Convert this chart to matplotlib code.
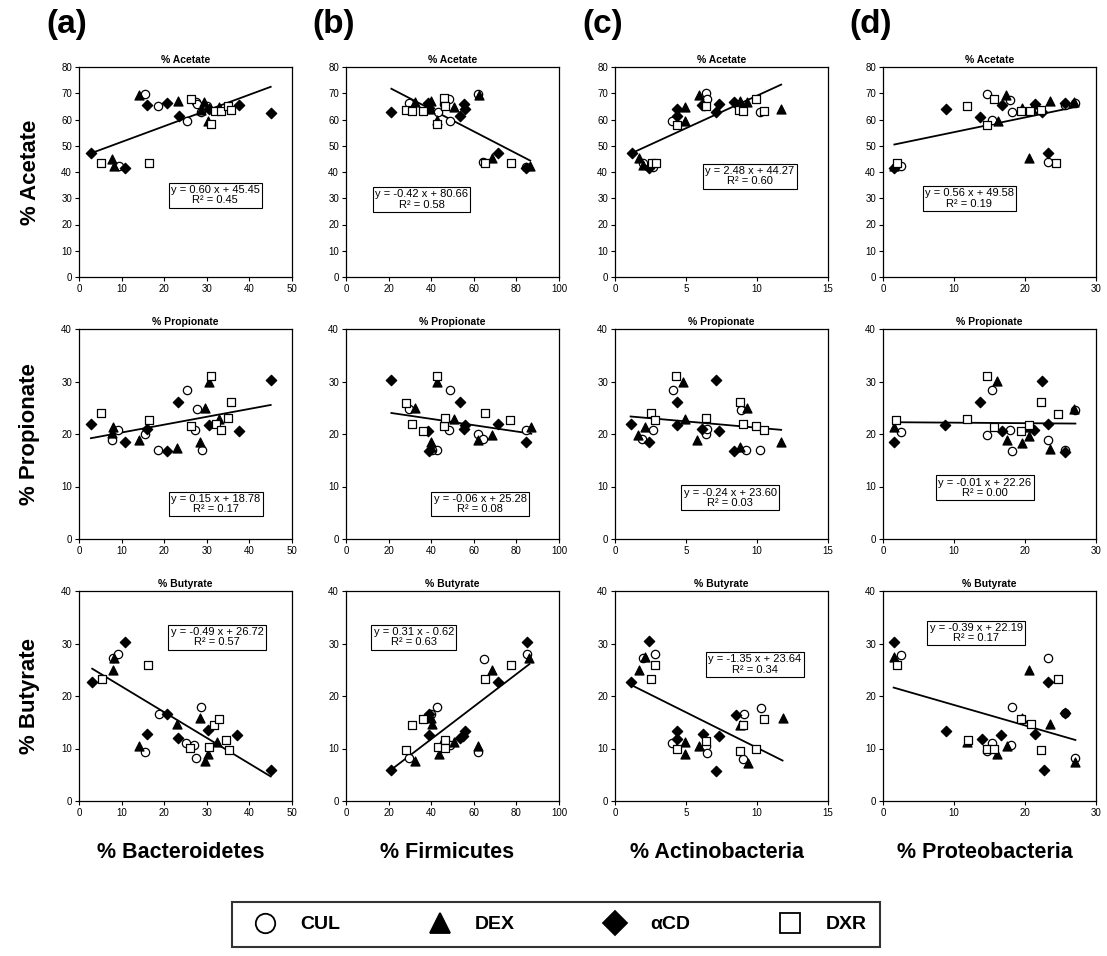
import matplotlib
matplotlib.use("Agg")
import matplotlib.pyplot as plt
from matplotlib.lines import Line2D

plt.rcParams['font.family'] = ['Liberation Sans', 'DejaVu Sans']

groups = ["CUL", "DEX", "αCD", "DXR"]
phyla = ["% Bacteroidetes", "% Firmicutes", "% Actinobacteria", "% Proteobacteria"]
acids = ["% Acetate", "% Propionate", "% Butyrate"]
panel_tags = ["(a)", "(b)", "(c)", "(d)"]

# x ranges / ticks per column
x_max = [50, 100, 15, 30]
x_step = [10, 20, 5, 10]
y_max = [80, 40, 40]

# ---- acetate row ----
a_ace = {
    "CUL": ([15.6, 18.5, 9.3, 25.4, 27.4, 28.7, 30.0, 27.8], [69.8, 65.3, 42.3, 59.3, 66.6, 62.8, 65.0, 66.0]),
    "DEX": ([14.1, 7.7, 8.1, 23.2, 29.4, 28.6, 30.3, 32.9], [69.4, 44.9, 42.3, 67.2, 66.6, 63.6, 59.6, 64.7]),
    "αCD": ([2.8, 10.9, 16.0, 20.7, 23.5, 30.6, 37.6, 45.0], [47.2, 41.5, 65.7, 66.2, 61.2, 63.9, 65.7, 62.5]),
    "DXR": ([5.1, 16.4, 26.2, 30.9, 31.9, 33.3, 34.9, 35.7], [43.6, 43.6, 67.9, 58.3, 63.1, 63.1, 65.2, 63.6]),
}
b_ace = {
    "CUL": ([29.4, 43.1, 48.3, 48.9, 61.8, 64.5, 84.4, 46.0], [66.2, 63.0, 67.9, 59.3, 69.8, 44.0, 42.0, 66.0]),
    "DEX": ([32.2, 40.0, 42.7, 50.9, 62.3, 68.5, 86.5, 39.3], [66.6, 67.2, 59.8, 64.9, 69.5, 45.3, 42.3, 64.0]),
    "αCD": ([21.3, 38.5, 53.3, 55.6, 56.1, 71.2, 84.4, 39.0], [62.8, 66.2, 61.2, 65.9, 64.0, 47.2, 41.5, 64.4]),
    "DXR": ([28.0, 31.2, 36.1, 42.7, 45.8, 46.4, 65.4, 77.4], [63.6, 63.4, 63.4, 58.3, 68.1, 65.3, 43.6, 43.6]),
}
c_ace = {
    "CUL": ([4.0, 6.4, 6.5, 2.0, 2.7, 10.2, 8.9, 6.3], [59.6, 70.0, 67.9, 43.6, 42.0, 62.8, 63.6, 65.0]),
    "DEX": ([1.7, 2.0, 4.9, 4.9, 5.9, 8.8, 9.3, 11.7], [45.3, 42.7, 64.9, 59.6, 69.4, 67.2, 66.6, 64.0]),
    "αCD": ([1.2, 2.4, 4.4, 4.4, 6.1, 7.1, 7.3, 8.4], [47.2, 41.7, 64.0, 61.5, 65.7, 62.8, 65.9, 66.6]),
    "DXR": ([2.6, 2.9, 4.4, 6.4, 8.7, 9.0, 9.9, 10.5], [43.6, 43.6, 58.0, 65.3, 63.6, 63.4, 68.0, 63.4]),
}
d_ace = {
    "CUL": ([14.7, 17.9, 18.1, 15.3, 2.6, 23.2, 27.1, 25.6], [69.8, 67.5, 62.8, 59.8, 42.3, 44.0, 66.2, 65.7]),
    "DEX": ([17.3, 23.5, 16.2, 20.6, 1.6, 26.9, 19.6, 21.0], [69.5, 67.2, 59.6, 45.3, 42.3, 66.6, 64.4, 64.0]),
    "αCD": ([8.9, 13.7, 16.7, 21.4, 22.4, 23.2, 25.6, 1.6], [64.0, 61.1, 65.7, 65.9, 62.8, 47.2, 66.2, 41.7]),
    "DXR": ([2.0, 11.8, 15.6, 14.7, 19.4, 20.7, 22.3, 24.4], [43.6, 65.3, 67.9, 58.0, 63.4, 63.4, 63.6, 43.6]),
}

# ---- propionate row ----
a_pro = {
    "CUL": ([7.7, 9.1, 15.6, 18.5, 25.3, 27.8, 27.2, 28.8], [18.9, 20.7, 20.0, 17.0, 28.4, 24.7, 20.7, 16.9]),
    "DEX": ([8.0, 7.7, 14.2, 23.1, 28.4, 29.5, 30.5, 32.9], [21.4, 20.1, 18.9, 17.4, 18.5, 24.9, 30.0, 22.8]),
    "αCD": ([2.8, 10.9, 16.0, 20.7, 23.2, 30.6, 37.6, 45.0], [22.0, 18.5, 20.9, 16.8, 26.1, 21.7, 20.6, 30.2]),
    "DXR": ([5.1, 16.4, 26.2, 30.9, 32.1, 33.3, 34.9, 35.7], [24.0, 22.6, 21.5, 31.1, 22.0, 20.7, 23.0, 26.1]),
}
b_pro = {
    "CUL": ([29.4, 48.6, 48.3, 42.7, 61.8, 64.5, 84.7, 40.5], [24.7, 28.4, 20.7, 16.9, 20.0, 19.1, 20.7, 17.0]),
    "DEX": ([32.2, 42.7, 40.0, 40.0, 50.9, 61.8, 68.5, 87.0], [24.9, 30.0, 18.5, 17.5, 22.8, 18.9, 19.8, 21.4]),
    "αCD": ([21.3, 38.5, 38.9, 53.3, 56.1, 55.6, 71.2, 84.4], [30.2, 20.6, 16.8, 26.1, 21.7, 20.9, 22.0, 18.5]),
    "DXR": ([28.0, 30.8, 36.1, 42.7, 45.8, 46.4, 65.1, 77.1], [26.0, 22.0, 20.6, 31.1, 21.5, 23.0, 24.0, 22.6]),
}
c_pro = {
    "CUL": ([1.9, 2.7, 4.1, 6.4, 6.5, 8.9, 9.2, 10.2], [19.1, 20.7, 28.4, 20.0, 20.9, 24.6, 17.0, 16.9]),
    "DEX": ([1.6, 2.1, 4.8, 4.9, 5.8, 8.8, 9.3, 11.7], [19.8, 21.4, 30.0, 22.8, 18.9, 17.5, 24.9, 18.5]),
    "αCD": ([1.1, 2.4, 4.4, 4.4, 6.1, 7.1, 7.3, 8.4], [22.0, 18.5, 26.1, 21.7, 20.9, 30.2, 20.6, 16.8]),
    "DXR": ([2.5, 2.8, 4.3, 6.4, 8.8, 9.0, 9.9, 10.5], [24.0, 22.6, 31.1, 23.0, 26.1, 22.0, 21.5, 20.7]),
}
d_pro = {
    "CUL": ([2.5, 14.7, 15.3, 17.9, 18.1, 23.2, 25.7, 27.1], [20.4, 19.9, 28.4, 20.8, 16.8, 18.9, 16.9, 24.6]),
    "DEX": ([1.5, 16.0, 17.4, 19.6, 20.6, 23.5, 26.9, 20.5], [21.4, 30.1, 18.9, 18.3, 19.7, 17.2, 24.8, 21.4]),
    "αCD": ([1.5, 8.8, 13.7, 16.7, 21.3, 22.4, 23.2, 25.7], [18.5, 21.7, 26.1, 20.6, 20.7, 30.1, 22.0, 16.6]),
    "DXR": ([1.9, 11.8, 14.7, 15.6, 19.4, 20.6, 22.3, 24.6], [22.6, 22.9, 31.1, 21.3, 20.6, 21.8, 26.1, 23.9]),
}

# ---- butyrate row ----
a_but = {
    "CUL": ([7.9, 9.2, 15.6, 18.7, 25.2, 27.1, 27.5, 28.7], [27.2, 28.0, 9.4, 16.6, 11.1, 10.7, 8.2, 17.9]),
    "DEX": ([8.3, 7.9, 14.2, 23.1, 28.3, 29.5, 30.3, 32.5], [27.2, 25.0, 10.5, 14.6, 15.9, 7.7, 8.9, 11.3]),
    "αCD": ([3.1, 10.8, 16.0, 20.6, 23.3, 30.2, 37.2, 45.0], [22.7, 30.2, 12.7, 16.5, 12.0, 13.5, 12.6, 6.0]),
    "DXR": ([5.3, 16.3, 26.0, 30.6, 31.8, 32.9, 34.6, 35.2], [23.2, 25.9, 10.1, 10.2, 14.5, 15.6, 11.6, 9.8]),
}
b_but = {
    "CUL": ([29.4, 40.0, 42.7, 48.6, 61.9, 65.0, 84.8, 46.0], [8.2, 16.6, 17.9, 10.7, 9.4, 27.1, 28.0, 11.0]),
    "DEX": ([32.2, 40.0, 40.5, 43.6, 50.5, 62.0, 68.6, 86.1], [7.6, 15.9, 14.6, 8.9, 11.3, 10.5, 25.0, 27.2]),
    "αCD": ([21.3, 38.9, 39.2, 53.3, 54.8, 56.1, 71.3, 84.8], [5.9, 12.6, 16.6, 12.0, 12.4, 13.4, 22.7, 30.2]),
    "DXR": ([28.3, 31.1, 36.1, 43.1, 46.4, 46.4, 65.3, 77.5], [9.8, 14.5, 15.7, 10.2, 11.6, 10.1, 23.2, 25.9]),
}
c_but = {
    "CUL": ([2.0, 2.8, 4.0, 6.4, 6.5, 9.1, 9.0, 10.3], [27.2, 28.0, 11.0, 10.4, 9.2, 16.6, 8.0, 17.8]),
    "DEX": ([1.7, 2.1, 4.9, 4.9, 5.9, 8.8, 9.4, 11.8], [25.0, 27.4, 11.3, 8.9, 10.4, 14.5, 7.3, 15.8]),
    "αCD": ([1.1, 2.4, 4.4, 4.4, 6.2, 7.1, 7.3, 8.5], [22.7, 30.4, 13.4, 11.9, 12.7, 5.7, 12.4, 16.4]),
    "DXR": ([2.5, 2.8, 4.4, 6.4, 8.8, 9.0, 9.9, 10.5], [23.2, 25.9, 10.0, 11.5, 9.6, 14.5, 9.9, 15.6]),
}
d_but = {
    "CUL": ([2.5, 14.7, 15.4, 18.0, 18.2, 23.3, 25.7, 27.1], [27.9, 9.6, 11.1, 10.6, 18.0, 27.2, 16.7, 8.2]),
    "DEX": ([1.5, 16.0, 17.4, 20.6, 19.6, 23.5, 27.0, 11.9], [27.5, 8.9, 10.4, 24.9, 15.9, 14.6, 7.5, 11.3]),
    "αCD": ([1.6, 8.9, 13.9, 16.6, 21.4, 22.7, 23.3, 25.7], [30.3, 13.4, 11.9, 12.6, 12.7, 5.9, 22.7, 16.7]),
    "DXR": ([2.0, 12.0, 14.7, 15.7, 19.5, 20.8, 22.3, 24.6], [26.0, 11.6, 10.0, 10.0, 15.6, 14.6, 9.7, 23.3]),
}

panels = [[a_ace, b_ace, c_ace, d_ace],
          [a_pro, b_pro, c_pro, d_pro],
          [a_but, b_but, c_but, d_but]]

# trendline coefficients (slope, intercept, r2) as printed on the chart
fits = [[(0.60, 45.45, 0.45), (-0.42, 80.66, 0.58), (2.48, 44.27, 0.60), (0.56, 49.58, 0.19)],
        [(0.15, 18.78, 0.17), (-0.06, 25.28, 0.08), (-0.24, 23.60, 0.03), (-0.01, 22.26, 0.00)],
        [(-0.49, 26.72, 0.57), (0.31, -0.62, 0.63), (-1.35, 23.64, 0.34), (-0.39, 22.19, 0.17)]]

# equation box centres in axes fraction
eq_pos = [[(0.64, 0.39), (0.355, 0.37), (0.634, 0.48), (0.405, 0.373)],
          [(0.643, 0.167), (0.63, 0.167), (0.54, 0.196), (0.479, 0.244)],
          [(0.648, 0.78), (0.318, 0.78), (0.657, 0.65), (0.437, 0.80)]]

styles = {
    "CUL": dict(marker="o", facecolor="white"),
    "DEX": dict(marker="^", facecolor="black"),
    "αCD": dict(marker="D", facecolor="black"),
    "DXR": dict(marker="s", facecolor="white"),
}
sizes = {"CUL": 36, "DEX": 42, "αCD": 28, "DXR": 36}

W, H = 1107, 956
fig = plt.figure(figsize=(W / 100, H / 100), dpi=100)

col_left = [79, 346, 615, 883]
row_top = [67, 329, 591]
ax_w, ax_h = 213, 210

for r in range(3):
    for c in range(4):
        ax = fig.add_axes([col_left[c] / W, 1 - (row_top[r] + ax_h) / H, ax_w / W, ax_h / H])
        data = panels[r][c]
        for g in groups:
            xs, ys = data[g]
            ax.scatter(xs, ys, s=sizes[g], marker=styles[g]["marker"],
                       facecolors=styles[g]["facecolor"], edgecolors="black",
                       linewidths=0.9, zorder=3)
        allx = [v for g in groups for v in data[g][0]]
        m, b, r2 = fits[r][c]
        x0, x1 = min(allx), max(allx)
        ax.plot([x0, x1], [m * x0 + b, m * x1 + b], color="black", lw=1.3, zorder=2)
        sign = "+" if b >= 0 else "-"
        eq = f"y = {m:.2f} x {sign} {abs(b):.2f}\nR² = {r2:.2f}"
        ax.text(eq_pos[r][c][0], eq_pos[r][c][1], eq, transform=ax.transAxes,
                ha="center", va="center", fontsize=8, linespacing=1.05, zorder=4,
                bbox=dict(boxstyle="square,pad=0.2", facecolor="white",
                          edgecolor="black", linewidth=0.8))
        ax.set_xlim(0, x_max[c])
        ax.set_ylim(0, y_max[r])
        ax.set_xticks(range(0, x_max[c] + 1, x_step[c]))
        ax.set_yticks(range(0, y_max[r] + 1, 10))
        ax.tick_params(labelsize=7, length=3, width=0.8, pad=2)
        for sp in ax.spines.values():
            sp.set_linewidth(0.9)
        ax.set_title(acids[r], fontsize=7.5, fontweight="bold", pad=3)

# row labels
for r in range(3):
    yc = 1 - (row_top[r] + ax_h / 2) / H
    fig.text(30 / W, yc, acids[r], rotation=90, ha="center", va="center",
             fontsize=16, fontweight="bold")

# column labels and panel tags
for c in range(4):
    xc = (col_left[c] + ax_w / 2) / W
    fig.text(xc - 5 / W, 1 - 852 / H, phyla[c], ha="center", va="center",
             fontsize=15.5, fontweight="bold")
    fig.text((col_left[c] - 12) / W, 1 - 24 / H, panel_tags[c], ha="center",
             va="center", fontsize=24, fontweight="bold")

handles = [Line2D([], [], linestyle="none", marker=styles[g]["marker"],
                  markerfacecolor=styles[g]["facecolor"], markeredgecolor="black",
                  markeredgewidth=1.3, markersize=14 if g != "αCD" else 12)
           for g in groups]
leg = fig.legend(handles, groups, loc="lower left",
                 bbox_to_anchor=(232 / W, 1 - 947 / H, 648 / W, 54 / H),
                 mode="expand", ncol=4, frameon=True, fancybox=False,
                 borderaxespad=0, handletextpad=0.8, borderpad=0.7,
                 prop=dict(size=14, weight="bold"))
leg.get_frame().set_edgecolor("black")
leg.get_frame().set_linewidth(1.5)

fig.savefig("out.png", dpi=100)
